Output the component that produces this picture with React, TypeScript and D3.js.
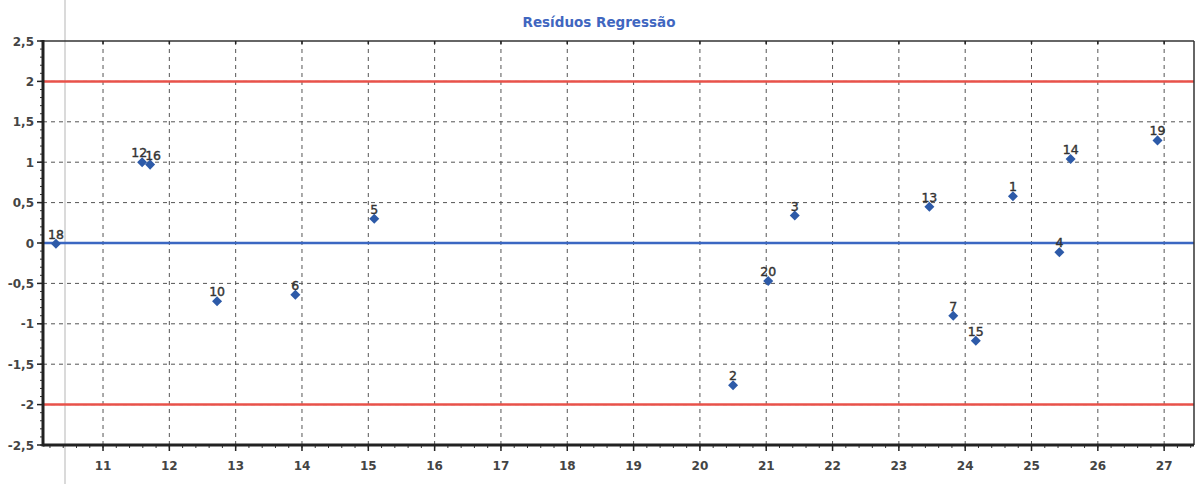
import React, { useEffect, useRef } from "react";
import * as d3 from "d3";

const pointIds = [18, 12, 16, 10, 6, 5, 2, 20, 3, 13, 7, 15, 1, 4, 14, 19];
const xValues = [10.29, 11.59, 11.71, 12.72, 13.9, 15.09, 20.5, 21.03, 21.43, 23.46, 23.82, 24.16, 24.72, 25.42, 25.59, 26.9];
const residuals = [-0.01, 1.0, 0.97, -0.72, -0.64, 0.3, -1.76, -0.47, 0.34, 0.45, -0.9, -1.21, 0.58, -0.115, 1.04, 1.27];
const xTicks = [11, 12, 13, 14, 15, 16, 17, 18, 19, 20, 21, 22, 23, 24, 25, 26, 27];
const yTicks = [-2.5, -2, -1.5, -1, -0.5, 0, 0.5, 1, 1.5, 2, 2.5];
const limitLines = [2, -2];
const title = "Resíduos Regressão";

const App = () => {
  const ref = useRef<SVGSVGElement>(null);

  useEffect(() => {
    const svg = d3.select(ref.current);
    svg.selectAll("*").remove();

    const width = 1199;
    const height = 484;
    const left = 43, top = 41, right = 1194, bottom = 445;

    const x = d3.scaleLinear().domain([10.095, 27.45]).range([left, right]);
    const y = d3.scaleLinear().domain([-2.5, 2.5]).range([bottom, top]);
    const fmt = (v: number) => String(v).replace(".", ",");
    const font = "'DejaVu Sans', Verdana, sans-serif";

    svg.attr("width", width).attr("height", height);
    svg.append("rect").attr("width", width).attr("height", height).attr("fill", "white");

    // stray scan line
    svg.append("line")
      .attr("x1", 65).attr("x2", 65).attr("y1", 0).attr("y2", height)
      .attr("stroke", "#b5b5b5").attr("stroke-width", 1);

    svg.append("text")
      .attr("x", 599).attr("y", 27)
      .attr("text-anchor", "middle")
      .attr("font-family", font).attr("font-size", 13.5).attr("font-weight", "bold")
      .attr("fill", "#4066c0")
      .text(title);

    const g = svg.append("g");

    // grid
    g.selectAll(".vgrid").data(xTicks).enter().append("line")
      .attr("x1", (d) => x(d)).attr("x2", (d) => x(d))
      .attr("y1", top).attr("y2", bottom)
      .attr("stroke", "#555").attr("stroke-width", 1).attr("stroke-dasharray", "4,4");
    g.selectAll(".hgrid").data(yTicks.filter((d) => d !== 2.5 && d !== -2.5)).enter().append("line")
      .attr("x1", left).attr("x2", right)
      .attr("y1", (d) => y(d)).attr("y2", (d) => y(d))
      .attr("stroke", "#555").attr("stroke-width", 1).attr("stroke-dasharray", "4,4");

    // limit lines
    g.selectAll(".limit").data(limitLines).enter().append("line")
      .attr("x1", left).attr("x2", right)
      .attr("y1", (d) => y(d)).attr("y2", (d) => y(d))
      .attr("stroke", "#e8524a").attr("stroke-width", 2.5);
    g.append("line")
      .attr("x1", left).attr("x2", right)
      .attr("y1", y(0)).attr("y2", y(0))
      .attr("stroke", "#3b67c2").attr("stroke-width", 2.5);

    // frame
    g.append("line").attr("x1", left).attr("x2", right).attr("y1", top).attr("y2", top)
      .attr("stroke", "#333").attr("stroke-width", 1.5);
    g.append("line").attr("x1", right).attr("x2", right).attr("y1", top).attr("y2", bottom)
      .attr("stroke", "#333").attr("stroke-width", 1.5);

    // minor ticks
    const xMinor = d3.range(10.2, 27.45, 0.2);
    g.selectAll(".xminor").data(xMinor).enter().append("line")
      .attr("x1", (d) => x(d)).attr("x2", (d) => x(d))
      .attr("y1", bottom).attr("y2", bottom + 3)
      .attr("stroke", "#333").attr("stroke-width", 1);
    const yMinor = d3.range(-2.5, 2.51, 0.1);
    g.selectAll(".yminor").data(yMinor).enter().append("line")
      .attr("x1", left - 3).attr("x2", left)
      .attr("y1", (d) => y(d)).attr("y2", (d) => y(d))
      .attr("stroke", "#333").attr("stroke-width", 1);

    // major ticks
    g.selectAll(".xmajor").data(xTicks).enter().append("line")
      .attr("x1", (d) => x(d)).attr("x2", (d) => x(d))
      .attr("y1", bottom).attr("y2", bottom + 6)
      .attr("stroke", "#222").attr("stroke-width", 1.5);
    g.selectAll(".xmajortop").data(xTicks).enter().append("line")
      .attr("x1", (d) => x(d)).attr("x2", (d) => x(d))
      .attr("y1", top).attr("y2", top + 3)
      .attr("stroke", "#222").attr("stroke-width", 1.5);
    g.selectAll(".ymajor").data(yTicks).enter().append("line")
      .attr("x1", left - 6).attr("x2", left)
      .attr("y1", (d) => y(d)).attr("y2", (d) => y(d))
      .attr("stroke", "#222").attr("stroke-width", 1.5);

    g.append("line").attr("x1", left).attr("x2", left).attr("y1", top - 1).attr("y2", bottom + 1.5)
      .attr("stroke", "#222").attr("stroke-width", 3);
    g.append("line").attr("x1", left).attr("x2", right).attr("y1", bottom).attr("y2", bottom)
      .attr("stroke", "#222").attr("stroke-width", 3);

    // tick labels
    g.selectAll(".xlabel").data(xTicks).enter().append("text")
      .attr("x", (d) => x(d)).attr("y", bottom + 25)
      .attr("text-anchor", "middle")
      .attr("font-family", font).attr("font-size", 12).attr("font-weight", "bold")
      .attr("fill", "#444")
      .text((d) => fmt(d));
    g.selectAll(".ylabel").data(yTicks).enter().append("text")
      .attr("x", 34).attr("y", (d) => y(d) + 4.5)
      .attr("text-anchor", "end")
      .attr("font-family", font).attr("font-size", 12).attr("font-weight", "bold")
      .attr("fill", "#444")
      .text((d) => fmt(d));

    // points
    const pts = pointIds.map((id, i) => ({ id, x: xValues[i], y: residuals[i] }));
    const diamond = d3.symbol().type(d3.symbolDiamond2).size(64);
    g.selectAll(".pt").data(pts).enter().append("path")
      .attr("d", diamond)
      .attr("transform", (d) => `translate(${x(d.x)},${y(d.y)})`)
      .attr("fill", "#2d5aa8");
    g.selectAll(".ptlabel").data(pts).enter().append("text")
      .attr("x", (d) => x(d.x) + (d.id === 12 ? -3 : d.id === 16 ? 3 : 0))
      .attr("y", (d) => y(d.y) - 5)
      .attr("text-anchor", "middle")
      .attr("font-family", font).attr("font-size", 12.5)
      .attr("fill", "#333").attr("stroke", "#333").attr("stroke-width", 0.4)
      .text((d) => d.id);
  }, []);

  return <svg ref={ref} style={{ position: "absolute", left: 0, top: 0 }} />;
};

export default App;
